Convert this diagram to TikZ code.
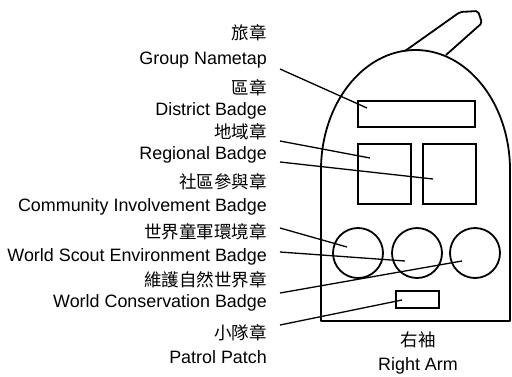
\documentclass[tikz,border=0pt]{standalone}
\usepackage{fontspec}
\setmainfont{Liberation Sans}
\newfontfamily\cjk{Noto Sans CJK TC}
\usetikzlibrary{positioning}
\tikzstyle{outline}=[line width=1.8pt, line join=round]
\tikzstyle{badge}=[draw, line width=1.8pt, inner sep=0pt]
\tikzstyle{roundel}=[draw, circle, line width=1.8pt, inner sep=0pt, minimum size=50pt]
\tikzstyle{en}=[anchor=east, inner sep=0pt, font=\fontsize{17.9}{20}\selectfont]
\tikzstyle{zh}=[anchor=east, inner sep=0pt, font=\cjk\fontsize{17.5}{20}\selectfont]
\tikzstyle{pointer}=[line width=1.3pt]

\begin{document}
\begin{tikzpicture}[x=1pt, y=-1pt]
\useasboundingbox (0,0) rectangle (512,376);

% sleeve
\draw[outline] (321,321) -- (321,170) arc[start angle=180, end angle=0, x radius=94.5pt, y radius=120pt] -- (510,321) -- cycle;
\draw[outline, rounded corners=2pt] (405,51) -- (460,12) -- (478,11) -- (482,23) -- (446,55);

% badges
\node[badge, minimum width=117pt, minimum height=26pt] (nametap) at (416.5,114) {};
\node[badge, minimum width=53pt, minimum height=60pt] (regional) at (384.5,174) {};
\node[badge, minimum width=53pt, minimum height=60pt] (community) at (449.5,174) {};
\node[roundel] (roundel1) at (358,253) {};
\node[roundel] (roundel2) at (417,253) {};
\node[roundel] (roundel3) at (475,253) {};
\node[badge, minimum width=43pt, minimum height=17pt] (patrol) at (417.5,299.5) {};

% labels
\node[zh] (zh1) at (267,33) {旅章};
\node[en] (en1) at (267,60) {Group Nametap};
\node[zh] (zh2) at (267,88) {區章};
\node[en] (en2) at (267,111) {District Badge};
\node[zh] (zh3) at (267,132) {地域章};
\node[en] (en3) at (267,155) {Regional Badge};
\node[zh] (zh4) at (267,182) {社區參與章};
\node[en] (en4) at (267,207) {Community Involvement Badge};
\node[zh] (zh5) at (267,232) {世界童軍環境章};
\node[en] (en5) at (267,257) {World Scout Environment Badge};
\node[zh] (zh6) at (267,280) {維護自然世界章};
\node[en] (en6) at (267,303) {World Conservation Badge};
\node[zh] (zh7) at (267,333) {小隊章};
\node[en] (en7) at (267,357) {Patrol Patch};

\node[zh, anchor=center] (armzh) at (418,340) {右袖};
\node[en, anchor=center] (armen) [below=9pt of armzh] {Right Arm};

% pointers
\coordinate (p1) at (280,69);  \coordinate (q1) at (367,108);
\coordinate (p2) at (280,141); \coordinate (q2) at (370,158);
\coordinate (p3) at (280,162); \coordinate (q3) at (433,179);
\coordinate (p4) at (280,228); \coordinate (q4) at (347,247);
\coordinate (p5) at (280,252); \coordinate (q5) at (405,261);
\coordinate (p6) at (280,293); \coordinate (q6) at (462,261);
\coordinate (p7) at (280,325); \coordinate (q7) at (402,300);
\foreach \i in {1,...,7}
  \draw[pointer] (p\i) -- (q\i);

\end{tikzpicture}
\end{document}
